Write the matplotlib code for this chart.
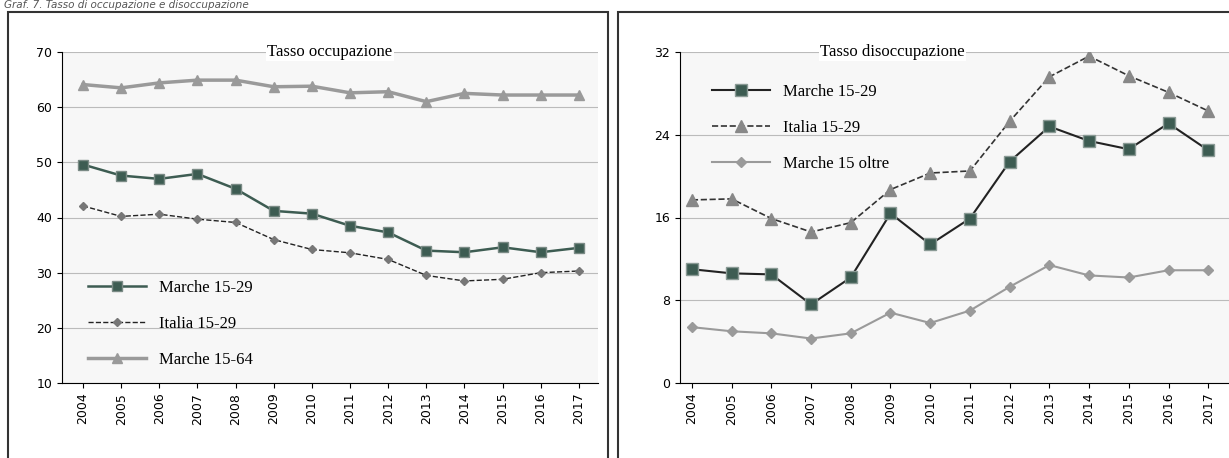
import matplotlib.pyplot as plt
from matplotlib.patches import Rectangle

years = [str(y) for y in range(2004, 2018)]

# tasso occupazione
occ_marche_1529 = [49.6, 47.6, 47.0, 47.9, 45.2, 41.2, 40.7, 38.5, 37.3, 34.0, 33.7, 34.6, 33.7, 34.5]
occ_italia_1529 = [42.1, 40.2, 40.6, 39.7, 39.1, 36.0, 34.2, 33.6, 32.4, 29.5, 28.5, 28.8, 30.0, 30.3]
occ_marche_1564 = [64.1, 63.5, 64.4, 64.9, 64.9, 63.7, 63.8, 62.6, 62.8, 61.0, 62.5, 62.2, 62.2, 62.2]

# tasso disoccupazione
dis_marche_1529 = [11.0, 10.6, 10.5, 7.6, 10.2, 16.4, 13.4, 15.9, 21.4, 24.8, 23.4, 22.6, 25.1, 22.5]
dis_italia_1529 = [17.7, 17.8, 15.9, 14.6, 15.5, 18.7, 20.3, 20.5, 25.3, 29.6, 31.6, 29.7, 28.1, 26.3]
dis_marche_15oltre = [5.4, 5.0, 4.8, 4.3, 4.8, 6.8, 5.8, 7.0, 9.3, 11.4, 10.4, 10.2, 10.9, 10.9]

W, H = 1229, 458
fig = plt.figure(figsize=(W / 100, H / 100), dpi=100)
serif = 'Liberation Serif'

fig.text(4 / W, 1 - 5 / H, 'Graf. 7. Tasso di occupazione e disoccupazione', fontsize=7.5,
         style='italic', color='#555555', va='center')

# panel frames
for x0, x1 in [(8, 608), (618, 1232)]:
    fig.patches.append(Rectangle((x0 / W, -0.05), (x1 - x0) / W, (H - 12) / H + 0.05,
                                 transform=fig.transFigure, fill=False, lw=1.5, ec='#333333'))

x = range(len(years))
green = '#3d5c52'
gray = '#9a9a9a'

ax1 = fig.add_axes([62 / W, 1 - 383 / H, (598 - 62) / W, (383 - 52) / H])
ax1.set_facecolor('#f7f7f7')
ax1.plot(x, occ_marche_1564, color=gray, lw=2.5, marker='^', ms=7, label='Marche 15-64')
ax1.plot(x, occ_marche_1529, color=green, lw=1.8, marker='s', ms=7, mec='#7a8a85',
         label='Marche 15-29')
ax1.plot(x, occ_italia_1529, color='#222222', lw=1, ls='--', marker='D', ms=4.5,
         mfc='#777777', mec='#777777', label='Italia 15-29')
ax1.set_ylim(10, 70)
ax1.set_yticks(range(10, 71, 10))
ax1.set_xlim(-0.55, 13.5)
ax1.grid(axis='y', color='#bbbbbb', lw=0.8)
ax1.set_axisbelow(True)
h, l = ax1.get_legend_handles_labels()
ax1.legend([h[1], h[2], h[0]], [l[1], l[2], l[0]], loc='lower left', frameon=False,
           prop={'family': serif, 'size': 12}, labelspacing=1.2, handlelength=3.5,
           bbox_to_anchor=(0.02, 0.0))
ax1.text(0.5, 1.0, 'Tasso occupazione', transform=ax1.transAxes, ha='center', va='center',
         family=serif, fontsize=12, bbox=dict(fc='white', ec='none', pad=1))

ax2 = fig.add_axes([680 / W, 1 - 383 / H, (1240 - 680) / W, (383 - 52) / H])
ax2.set_facecolor('#f7f7f7')
ax2.plot(x, dis_marche_1529, color='#222222', lw=1.5, marker='s', ms=8, mfc=green,
         mec='#8a9a95', label='Marche 15-29')
ax2.plot(x, dis_italia_1529, color='#333333', lw=1.2, ls='--', marker='^', ms=8,
         mfc='#888888', mec='#888888', label='Italia 15-29')
ax2.plot(x, dis_marche_15oltre, color=gray, lw=1.5, marker='D', ms=5, label='Marche 15 oltre')
ax2.set_ylim(0, 32)
ax2.set_yticks([0, 8, 16, 24, 32])
ax2.set_xlim(-0.3, 13.8)
ax2.grid(axis='y', color='#bbbbbb', lw=0.8)
ax2.set_axisbelow(True)
ax2.legend(loc='upper left', frameon=False, prop={'family': serif, 'size': 12},
           labelspacing=1.2, handlelength=3.5, bbox_to_anchor=(0.03, 0.95))
ax2.text(0.38, 1.0, 'Tasso disoccupazione', transform=ax2.transAxes, ha='center', va='center',
         family=serif, fontsize=12, bbox=dict(fc='white', ec='none', pad=1))

for ax in (ax1, ax2):
    ax.set_xticks(list(x))
    ax.set_xticklabels(years, rotation=90, fontsize=9)
    ax.tick_params(axis='y', labelsize=9)
    for s in ('top', 'right'):
        ax.spines[s].set_visible(False)

fig.savefig('out.png', dpi=100)
